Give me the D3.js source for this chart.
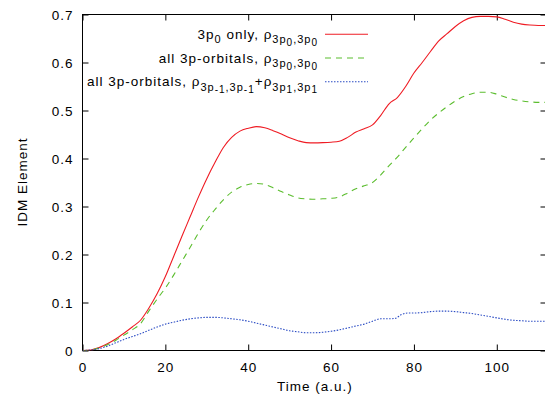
<!DOCTYPE html>
<html>
<head>
<meta charset="utf-8">
<script src="https://cdn.jsdelivr.net/npm/d3@7/dist/d3.min.js"></script>
<style>
  html, body { margin: 0; padding: 0; background: #fff; }
  svg { display: block; font-family: "Liberation Sans", Arial, Helvetica, sans-serif; }
  svg text { letter-spacing: 1px; }
</style>
</head>
<body>
<svg id="chart" width="545" height="400"></svg>
<script>
// ---- data ----
const times = [0,2,4,6,8,10,12,14,16,18,20,22,24,26,28,30,32,34,36,38,40,42,44,46,48,50,52,54,56,58,60,62,64,66,68,70,72,74,76,78,80,82,84,86,88,90,92,94,96,98,100,102,104,106,108,110,112];
const red3p0Only = [0,0.001,0.006,0.014,0.024,0.036,0.049,0.063,0.088,0.118,0.154,0.196,0.238,0.279,0.32,0.358,0.392,0.423,0.444,0.457,0.463,0.4665,0.464,0.458,0.451,0.443,0.437,0.433,0.4325,0.433,0.434,0.436,0.444,0.455,0.462,0.47,0.49,0.514,0.527,0.55,0.578,0.60,0.623,0.645,0.66,0.675,0.687,0.694,0.696,0.696,0.695,0.69,0.684,0.68,0.678,0.677,0.677];
const greenAll3p0 = [0,0.001,0.005,0.012,0.021,0.032,0.043,0.056,0.082,0.107,0.13,0.157,0.186,0.215,0.245,0.272,0.294,0.314,0.33,0.34,0.346,0.348,0.346,0.339,0.331,0.324,0.318,0.316,0.315,0.316,0.317,0.32,0.328,0.337,0.343,0.35,0.366,0.385,0.403,0.423,0.443,0.462,0.48,0.495,0.508,0.52,0.529,0.535,0.538,0.538,0.534,0.528,0.523,0.52,0.518,0.517,0.517];
const blueTimes = [0,2,4,6,8,10,12,14,16,18,20,22,24,26,28,30,32,34,36,38,40,42,44,46,48,50,52,54,56,58,60,62,64,66,68,70,72,74,75.5,77,78.5,80,82,84,86,88,90,92,94,96,98,100,102,104,106,108,110,112];
const blueAll3pm1p1 = [0,0.001,0.004,0.009,0.016,0.023,0.029,0.035,0.042,0.049,0.055,0.059,0.063,0.066,0.068,0.069,0.069,0.068,0.066,0.064,0.061,0.057,0.053,0.049,0.045,0.041,0.039,0.037,0.037,0.038,0.040,0.043,0.047,0.051,0.055,0.061,0.066,0.066,0.067,0.075,0.078,0.078,0.079,0.081,0.082,0.082,0.081,0.079,0.077,0.074,0.071,0.068,0.065,0.063,0.062,0.061,0.061,0.061];
const xTicks = [0,20,40,60,80,100];
const yTicks = [0,0.1,0.2,0.3,0.4,0.5,0.6,0.7];
const xLabel = "Time (a.u.)";
const yLabel = "IDM Element";
// legend entries: segments [text, level]
const legendEntries = [
  {segs: [["3p",0],["0",1],[" only, ρ",0],["3p",1],["0",2],[",3p",1],["0",2]], color: "#ef1c24", dash: null},
  {segs: [["all 3p-orbitals, ρ",0],["3p",1],["0",2],[",3p",1],["0",2]], color: "#5bbd2e", dash: "6,5"},
  {segs: [["all 3p-orbitals, ρ",0],["3p",1],["-1",2],[",3p",1],["-1",2],["+ρ",0],["3p",1],["1",2],[",3p",1],["1",2]], color: "#2b4cc4", dash: "1.5,1.5"}
];

// ---- layout ----
const svg = d3.select("#chart");
const L = 82.5, R = 546.5, T = 14.5, B = 350.5;
const FS = 13.5;
const x = d3.scaleLinear().domain([0, 112]).range([L, R]);
const y = d3.scaleLinear().domain([0, 0.7]).range([B, T]);

svg.append("defs").append("clipPath").attr("id","clip")
  .append("rect").attr("x", L).attr("y", T).attr("width", R - L).attr("height", B - T);

// axes (ticks inward, mirrored)
const tickLen = 6;
const gx = svg.append("g").attr("transform", `translate(0,${B})`)
  .call(d3.axisBottom(x).tickValues(xTicks).tickSizeInner(-tickLen).tickSizeOuter(0).tickPadding(0).tickFormat(d3.format("d")));
gx.selectAll("text").attr("dy", null).attr("y", 21).attr("font-size", FS).attr("font-family", "Liberation Sans, Arial, sans-serif").attr("fill","#000");
const gxt = svg.append("g").attr("transform", `translate(0,${T})`)
  .call(d3.axisTop(x).tickValues(xTicks).tickSizeInner(-tickLen).tickSizeOuter(0).tickFormat(""));
const gy = svg.append("g").attr("transform", `translate(${L},0)`)
  .call(d3.axisLeft(y).tickValues(yTicks).tickSizeInner(-tickLen).tickSizeOuter(0).tickPadding(0).tickFormat(d => d === 0 ? "0" : d3.format(".1f")(d)));
gy.selectAll("text").attr("x", -9).attr("dy", "0.35em").attr("font-size", FS).attr("font-family", "Liberation Sans, Arial, sans-serif").attr("fill","#000");
const gyr = svg.append("g").attr("transform", `translate(${R},0)`)
  .call(d3.axisRight(y).tickValues(yTicks).tickSizeInner(-tickLen).tickSizeOuter(0).tickFormat(""));
[gx, gxt, gy, gyr].forEach(g => { g.select(".domain").remove(); g.selectAll("line").attr("stroke","#000"); });

// frame
svg.append("rect").attr("x", L).attr("y", T).attr("width", R - L).attr("height", B - T)
  .attr("fill", "none").attr("stroke", "#000").attr("stroke-width", 1);

// axis labels
svg.append("text").attr("x", 315).attr("y", 391).attr("text-anchor", "middle")
  .attr("font-size", FS).text(xLabel);
svg.append("text").attr("transform", "translate(27,182) rotate(-90)").attr("text-anchor", "middle")
  .attr("font-size", FS).text(yLabel);

// lines
const line = d3.line().x(d => x(d[0])).y(d => y(d[1])).curve(d3.curveMonotoneX);
const series = [
  {t: times, v: red3p0Only, e: legendEntries[0]},
  {t: times, v: greenAll3p0, e: legendEntries[1]},
  {t: blueTimes, v: blueAll3pm1p1, e: legendEntries[2]}
];
const plot = svg.append("g").attr("clip-path", "url(#clip)");
series.forEach(s => {
  plot.append("path").datum(s.t.map((t, i) => [t, s.v[i]]))
    .attr("fill", "none").attr("stroke", s.e.color).attr("stroke-width", 1.1)
    .attr("stroke-dasharray", s.e.dash).attr("d", line);
});

// legend
const levelOff = [0, 4.5, 7];
const levelSize = [FS, 11, 10];
legendEntries.forEach((e, i) => {
  const ly = 34.3 + i * 23.7;
  const txt = svg.append("text").attr("x", 318).attr("y", ly + 4.5).attr("text-anchor", "end");
  let cur = 0;
  e.segs.forEach(([s, lvl]) => {
    txt.append("tspan").attr("dy", levelOff[lvl] - levelOff[cur]).attr("font-size", levelSize[lvl]).text(s);
    cur = lvl;
  });
  svg.append("line").attr("x1", 325).attr("x2", 368).attr("y1", ly).attr("y2", ly)
    .attr("stroke", e.color).attr("stroke-width", 1.1).attr("stroke-dasharray", e.dash);
});
</script>
</body>
</html>
